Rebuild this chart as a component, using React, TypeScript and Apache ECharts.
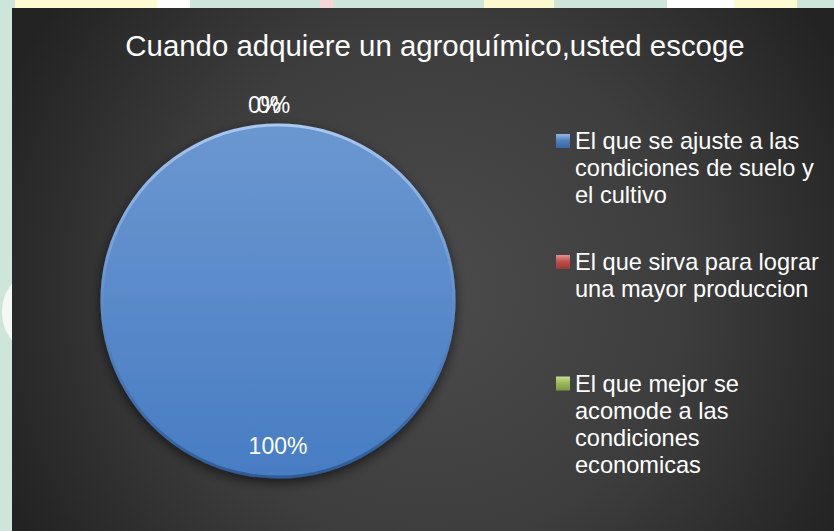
import React, { useEffect, useRef } from "react";
import * as echarts from "echarts";

const titleText = "Cuando adquiere un agroquímico,usted escoge";
const categories = [
  "El que se ajuste a las condiciones de suelo y el cultivo",
  "El que sirva para lograr una mayor produccion",
  "El que mejor se acomode a las condiciones economicas",
];
const legendLines = [
  ["El que se ajuste a las", "condiciones de suelo y", "el cultivo"],
  ["El que sirva para lograr", "una mayor produccion"],
  ["El que mejor se", "acomode a las", "condiciones", "economicas"],
];
const percentValues = [100, 0, 0];

const FONT = "'Liberation Sans', Arial, sans-serif";

const lin = (stops: [number, string][]) => ({
  type: "linear",
  x: 0,
  y: 0,
  x2: 0,
  y2: 1,
  colorStops: stops.map(([offset, color]) => ({ offset, color })),
});

const sliceColors = [
  lin([[0, "#6b97d0"], [1, "#477dc3"]]),
  lin([[0, "#d26764"], [1, "#b8433f"]]),
  lin([[0, "#abc86e"], [1, "#8cae4c"]]),
];
const iconTones = [
  ["#93b6e6", "#4f81bd", "#3a679f"],
  ["#e39290", "#c0504d", "#993835"],
  ["#c6de93", "#9bbb59", "#7c9943"],
];

const LINE_H = 27;
const ICON = 14;
const iconCenters = [141, 262, 383.5];
const zeroLabelShift = [0, -30, -21];

export default function App() {
  const ref = useRef<HTMLDivElement>(null);
  useEffect(() => {
    if (!ref.current) return;
    const chart = echarts.init(ref.current, undefined, { renderer: "svg" });
    const legends = categories.map((name, i) => {
      const n = legendLines[i].length;
      const h = (n - 1) * LINE_H + ICON;
      const f = ICON / h;
      const [hi, mid, lo] = iconTones[i];
      return {
        data: [
          {
            name,
            itemStyle: {
              color: lin([[0, hi], [f * 0.45, mid], [f, lo], [1, lo]]),
              borderWidth: 0,
            },
          },
        ],
        orient: "vertical",
        left: 556,
        top: iconCenters[i] - LINE_H / 2,
        padding: 0,
        itemWidth: ICON,
        itemHeight: h,
        icon: `path://M0,0h${ICON}v${ICON}h-${ICON}zM0,${h}`,
        selectedMode: false,
        formatter: () => legendLines[i].join("\n"),
        textStyle: {
          color: "#ffffff",
          fontSize: 23.6,
          lineHeight: LINE_H,
          fontFamily: FONT,
        },
      };
    });
    chart.setOption({
      animation: false,
      backgroundColor: "#cee5da",
      graphic: {
        elements: [
          { type: "rect", shape: { x: 15, y: 0, width: 142, height: 8 }, style: { fill: "#fdfbcf" } },
          { type: "rect", shape: { x: 157, y: 0, width: 33, height: 8 }, style: { fill: "#fefefa" } },
          { type: "rect", shape: { x: 320, y: 0, width: 13, height: 8 }, style: { fill: "#f9d5d8" } },
          { type: "rect", shape: { x: 484, y: 0, width: 70, height: 8 }, style: { fill: "#fcf9cf" } },
          { type: "rect", shape: { x: 667, y: 0, width: 67, height: 8 }, style: { fill: "#ffffff" } },
          { type: "rect", shape: { x: 734, y: 0, width: 63, height: 8 }, style: { fill: "#fdfbcf" } },
          { type: "ellipse", shape: { cx: 36, cy: 312, rx: 34, ry: 40 }, style: { fill: "#f4f9f7" } },
          {
            type: "rect",
            shape: { x: 12, y: 8, width: 830, height: 530 },
            style: {
              fill: {
                type: "radial",
                x: 430,
                y: 290,
                r: 470,
                global: true,
                colorStops: [
                  { offset: 0, color: "#4b4b4b" },
                  { offset: 0.55, color: "#3d3d3d" },
                  { offset: 1, color: "#232323" },
                ],
              },
            },
          },
        ],
      },
      title: {
        text: titleText,
        left: 435,
        top: 31,
        padding: 0,
        textAlign: "center",
        textStyle: { color: "#ffffff", fontSize: 29.4, fontWeight: "normal", fontFamily: FONT },
      },
      legend: legends,
      series: [
        {
          type: "pie",
          center: [278, 301],
          radius: 176,
          startAngle: 90,
          clockwise: true,
          avoidLabelOverlap: false,
          silent: true,
          label: {
            show: true,
            position: "outside",
            color: "#ffffff",
            fontSize: 23,
            fontFamily: FONT,
            distanceToLabelLine: 0,
            formatter: (p: any) => `${Math.round(p.percent)}%`,
          },
          labelLine: { show: false, length: 20, length2: 0 },
          labelLayout: (p: any) =>
            p.dataIndex === 0 ? { dy: 54 } : { dx: zeroLabelShift[p.dataIndex] },
          itemStyle: {
            borderWidth: 3,
            borderColor: lin([[0, "#a9c8f0"], [0.5, "#5e8ecf"], [1, "#2e5b97"]]),
            shadowBlur: 12,
            shadowColor: "rgba(0,0,0,0.6)",
            shadowOffsetY: 4,
          },
          data: categories.map((name, i) => ({
            name,
            value: percentValues[i],
            itemStyle: { color: sliceColors[i] },
            label: i === 0 ? { position: "inside" } : undefined,
          })),
        },
      ],
    });
    return () => chart.dispose();
  }, []);
  return (
    <div
      ref={ref}
      style={{ position: "fixed", left: 0, top: 0, width: 834, height: 531 }}
    />
  );
}
